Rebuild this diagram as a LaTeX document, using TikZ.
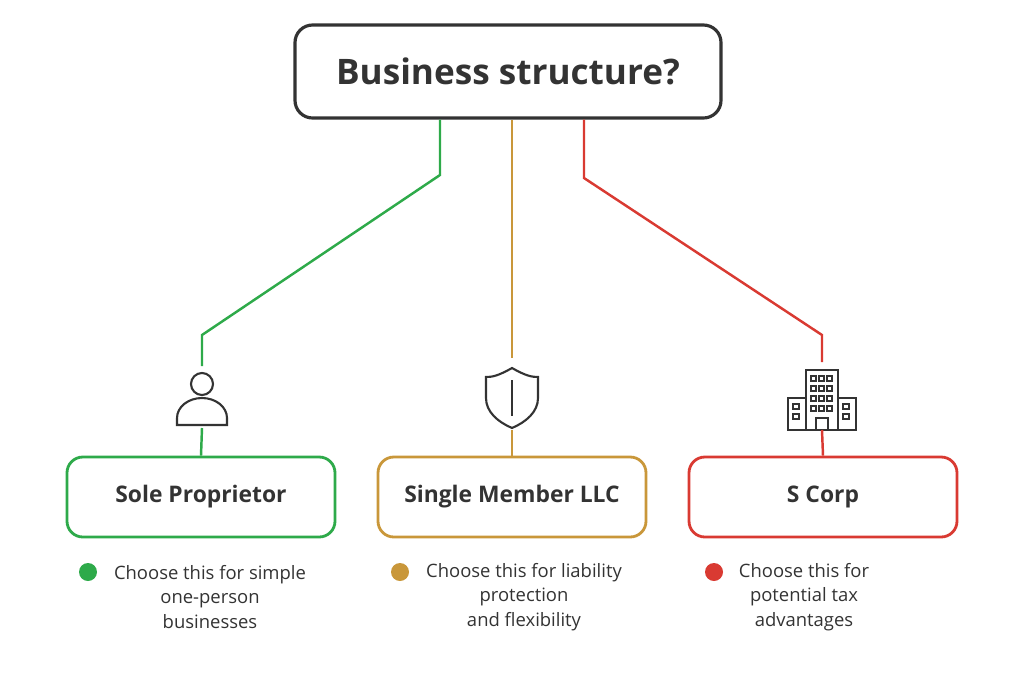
\documentclass[tikz,border=0pt]{standalone}
\usepackage{fontspec}
\setmainfont{Open Sans}
\usetikzlibrary{positioning}
\definecolor{cgreen}{HTML}{2EAA4A}
\definecolor{cgold}{HTML}{C9973A}
\definecolor{cred}{HTML}{D93A32}
\definecolor{ctext}{HTML}{333333}
\begin{document}
\begin{tikzpicture}[x=0.02cm,y=-0.02cm,line width=1.4pt,
    choice/.style={draw,rounded corners=9pt,line width=1.6pt,minimum width=268*0.02cm,minimum height=80*0.02cm,font=\fontsize{13}{15}\selectfont\bfseries,text=ctext},
    note/.style={align=center,font=\fontsize{10.5}{14}\selectfont,text=ctext},
    icon/.style={draw=ctext,line width=1.2pt}]
\useasboundingbox (0,0) rectangle (1024,680);

\node[draw=ctext,line width=1.8pt,rounded corners=10pt,minimum width=426*0.02cm,minimum height=93*0.02cm,
    font=\fontsize{20}{24}\selectfont\bfseries,text=ctext] (Q) at (508,71.5) {Business structure?};

\node[choice,draw=cgreen] (B1) at (201,497) {Sole Proprietor};
\node[choice,draw=cgold]  (B2) at (512,497) {Single Member LLC};
\node[choice,draw=cred]   (B3) at (823,497) {S Corp};

% icons
\coordinate (I1t) at (202,366);
\coordinate (I1b) at (202,428);
\draw[icon] (202,384) circle (11);
\draw[icon] (177,425) -- (177,418) arc (180:360:25 and 20) -- (227,425) -- cycle;
\coordinate (I2t) at (512,358);
\coordinate (I2b) at (512,430);
\draw[icon] (512,368) .. controls (498,376) and (492,377) .. (486,377) -- (486,398)
    .. controls (486,412) and (498,422) .. (512,428) .. controls (526,422) and (538,412) .. (538,398)
    -- (538,377) .. controls (532,377) and (526,376) .. (512,368) -- cycle;
\draw[icon] (512,380) -- (512,416);
\coordinate (I3t) at (822,362);
\coordinate (I3b) at (822,430);
\draw[icon] (806,370) rectangle (838,430);
\draw[icon] (788,398) rectangle (806,430);
\draw[icon] (838,398) rectangle (856,430);
\draw[icon] (816,418) rectangle (828,430);
\foreach \x in {811,819,827} \foreach \y in {376,386,396,406}
    \draw[icon,line width=0.9pt] (\x,\y) rectangle ++(5,5);
\foreach \x in {793,843} \foreach \y in {404,414}
    \draw[icon,line width=0.9pt] (\x,\y) rectangle ++(6,5);

% connectors
\draw[cgreen] (Q.south -| 440,0) -- (440,175) -- (202,335) -- (I1t);
\draw[cgreen] (I1b) -- (B1.north);
\draw[cgold] (Q.south -| 512,0) -- (I2t);
\draw[cgold] (I2b) -- (B2.north);
\draw[cred] (Q.south -| 584,0) -- (584,178) -- (822,335) -- (I3t);
\draw[cred] (I3b) -- (B3.north);

% notes
\fill[cgreen] (88,572) circle (9);
\node[note] (N1) at (210,597) {Choose this for simple\\one-person\\businesses};
\fill[cgold] (400,572) circle (9);
\node[note] (N2) at (524,597) {Choose this for liability\\protection\\and flexibility};
\fill[cred] (714,572) circle (9);
\node[note] (N3) at (804,597) {Choose this for\\potential tax\\advantages};
\end{tikzpicture}
\end{document}
